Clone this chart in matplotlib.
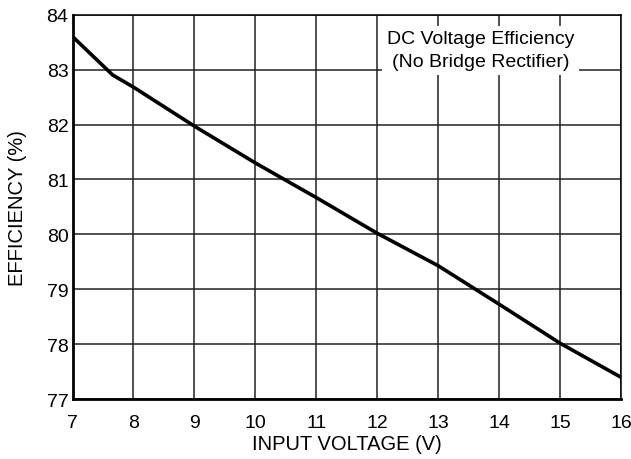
import matplotlib
matplotlib.use("Agg")
import matplotlib.pyplot as plt

plt.rcParams['font.family'] = ['Liberation Sans', 'DejaVu Sans']

# values
input_voltage = [7, 7.66, 8, 9, 10, 11, 12, 13, 14, 15, 16]
efficiency = [83.6, 82.9, 82.68, 81.97, 81.3, 80.67, 80.02, 79.43, 78.73, 78.02, 77.4]

x_ticks = list(range(7, 17))
y_ticks = list(range(77, 85))

fig = plt.figure(figsize=(6.31, 4.60), dpi=100)
ax = fig.add_axes([0.115, 0.130, 0.869, 0.836])

ax.plot(input_voltage, efficiency, color='black', linewidth=2.6, zorder=3)

ax.set_xlim(7, 16)
ax.set_ylim(77, 84)
ax.set_xticks(x_ticks)
ax.set_yticks(y_ticks)
ax.grid(True, color='#222222', linewidth=1.1)
ax.tick_params(length=0, labelsize=14, colors='black')
ax.tick_params(axis='x', pad=11)
ax.tick_params(axis='y', pad=3)

for side in ['left', 'bottom']:
    ax.spines[side].set_linewidth(2.0)
for side in ['top', 'right']:
    ax.spines[side].set_linewidth(1.1)

ax.set_xlabel('INPUT VOLTAGE (V)', fontsize=14.5, labelpad=2)
ax.set_ylabel('EFFICIENCY (%)', fontsize=14.5, labelpad=14)

ax.text(13.70, 83.35, 'DC Voltage Efficiency\n(No Bridge Rectifier)',
        ha='center', va='center', fontsize=14, linespacing=1.45,
        bbox=dict(boxstyle='square,pad=0.25', facecolor='white', edgecolor='none'),
        zorder=4)

fig.savefig('out.png', dpi=100)
